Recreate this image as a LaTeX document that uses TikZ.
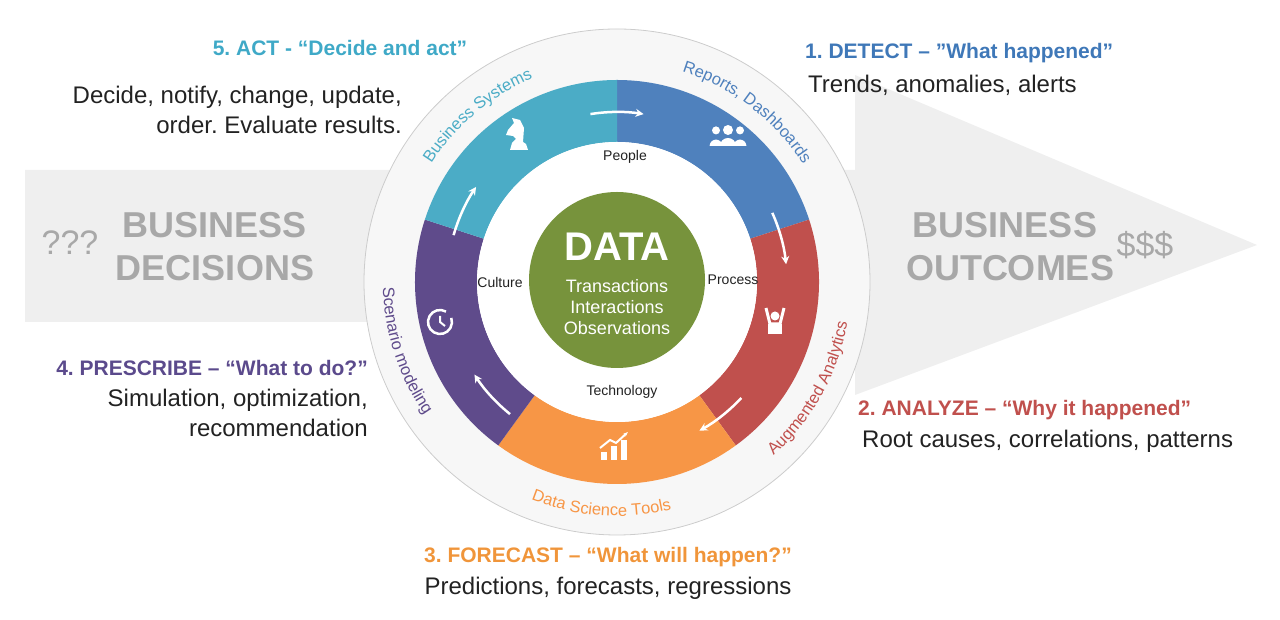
\documentclass[tikz,border=0pt]{standalone}
\usepackage{fontspec}
\setmainfont{Liberation Sans}
\usetikzlibrary{decorations.text,arrows.meta,calc}
\frenchspacing
\definecolor{cblue}{HTML}{4F81BD}
\definecolor{cred}{HTML}{C0504D}
\definecolor{corange}{HTML}{F79646}
\definecolor{cpurple}{HTML}{5F4B8B}
\definecolor{cteal}{HTML}{4BACC6}
\definecolor{cgreen}{HTML}{77933C}
\definecolor{hblue}{HTML}{3F78B8}
\definecolor{hteal}{HTML}{3FA9C7}
\definecolor{horange}{HTML}{F0953A}
\definecolor{hpurple}{HTML}{5B4A8C}
\definecolor{bgray}{HTML}{EFEFEF}
\definecolor{tgray}{HTML}{A8A8A8}
\definecolor{body}{HTML}{222222}
\tikzset{
 head/.style={font=\fontsize{21}{24}\selectfont\bfseries, inner sep=0pt},
 bodytxt/.style={font=\fontsize{24}{27}\selectfont, text=body, inner sep=0pt},
 bigg/.style={font=\fontsize{36}{40}\selectfont\bfseries, text=tgray, inner sep=0pt},
 inlab/.style={font=\fontsize{14}{16}\selectfont, text=body, inner sep=0pt},
 flow/.style={white, line width=2.5pt, -{Stealth[length=8pt,width=8pt]}},
}
\begin{document}
\begin{tikzpicture}[x=1pt,y=1pt]
\useasboundingbox (0,0) rectangle (1280,620);
\coordinate (C) at (617,338);
% big arrow
\fill[bgray] (25,450) -- (855,450) -- (855,545) -- (1257,375) -- (855,225) -- (855,298) -- (25,298) -- cycle;
% outer circle
\fill[white!94!gray, draw=gray!40, line width=0.8pt] (C) circle[radius=253];
% ring segments
\foreach \a/\b/\c in {90/18/cblue, 18/-54/cred, -54/-126/corange, -126/-198/cpurple, 162/90/cteal}{
 \fill[\c] (C) ++(\a:202) arc[start angle=\a, end angle=\b, radius=202] -- ($(C)+(\b:140)$) arc[start angle=\b, end angle=\a, radius=140] -- cycle;
}
\fill[white] (C) circle[radius=140];
\node[circle, fill=cgreen, minimum size=176pt, inner sep=0pt] (core) at (617,340) {};
% flow arrows
\foreach \m in {90,15,-52,-138,155}{
 \draw[flow] (C) ++(\m+9:170) arc[start angle=\m+9, end angle=\m-9, radius=170];
}
% curved labels
\path[decorate, decoration={text along path, text align=center, text={|\fontsize{16.5}{18}\selectfont\color{cteal}|Business Systems}}] (C) ++(160:220) arc[start angle=160, end angle=100, radius=220];
\path[decorate, decoration={text along path, text align=center, text={|\fontsize{16.5}{18}\selectfont\color{cblue}|Reports{,} Dashboards}}] (C) ++(85:220) arc[start angle=85, end angle=20, radius=220];
\path[decorate, decoration={text along path, text align=center, text={|\fontsize{16.5}{18}\selectfont\color{cred}|Augmented Analytics}}] (C) ++(-62:234) arc[start angle=-62, end angle=4, radius=234];
\path[decorate, decoration={text along path, text align=center, text={|\fontsize{16.5}{18}\selectfont\color{corange}|Data Science Tools}}] (C) ++(-122:234) arc[start angle=-122, end angle=-66, radius=234];
\path[decorate, decoration={text along path, text align=center, text={|\fontsize{16.5}{18}\selectfont\color{cpurple}|Scenario modeling}}] (C) ++(170:234) arc[start angle=170, end angle=226, radius=234];
% inner labels
\node[inlab] (people) at (625,463) {People};
\node[inlab] (process) at (733,340) {Process};
\node[inlab] (tech) at (622,228) {Technology};
\node[inlab] (culture) at (500,337) {Culture};
\node[font=\fontsize{40}{44}\selectfont\bfseries, text=white, inner sep=0pt] (data) at (617,373) {DATA};
\node[font=\fontsize{18}{20}\selectfont, text=white, inner sep=0pt, align=center] (dl) at (617,313) {Transactions\\[1pt]Interactions\\[1pt]Observations};
% icons
\fill[white] (510,470) -- (528,470) -- (526,476) -- (523,478) -- (524,492) -- (520,500) -- (512,502) -- (514,497) -- (508,490) -- (506,485) -- (513,484) -- (516,481) -- (512,477) -- cycle;
\foreach \dx/\r in {-12/4,12/4,0/5}{
 \fill[white] (728+\dx,488+\r*0.4) circle[radius=\r];
 \fill[white] (728+\dx-\r*1.6,474) arc[start angle=180,end angle=0,radius=\r*1.6] -- cycle;
}
\fill[white] (775,304) circle[radius=4.5];
\draw[white, line width=3pt] (766,312) -- (770,296) -- (780,296) -- (784,312);
\fill[white] (768,286) rectangle (782,296);
\fill[white] (601,160) rectangle (607,168);
\fill[white] (611,160) rectangle (617,174);
\fill[white] (621,160) rectangle (627,180);
\draw[white, line width=2pt, -{Stealth[length=5pt]}] (600,172) -- (610,180) -- (616,177) -- (628,188);
\draw[white, line width=2.5pt] (440,298) ++(60:12) arc[start angle=60, end angle=380, radius=12];
\draw[white, line width=2pt] (440,304) -- (440,298) -- (445,294);
% headings and texts
\node[head, text=hteal] (h5) at (340,572) {5. ACT - “Decide and act”};
\node[bodytxt, anchor=east] (t5a) at (402,523) {Decide, notify, change, update,};
\node[bodytxt, anchor=east] (t5b) at (402,495) {order. Evaluate results.};
\node[head, text=hblue, anchor=west] (h1) at (805,567) {1. DETECT – ”What happened”};
\node[bodytxt, anchor=west] (t1) at (808,535) {Trends, anomalies, alerts};
\node[head, text=cred, anchor=west] (h2) at (858,210) {2. ANALYZE – “Why it happened”};
\node[bodytxt, anchor=west] (t2) at (862,179) {Root causes, correlations, patterns};
\node[head, text=horange] (h3) at (608,63) {3. FORECAST – “What will happen?”};
\node[bodytxt] (t3) at (608,32) {Predictions, forecasts, regressions};
\node[head, text=hpurple, anchor=east] (h4) at (368,252) {4. PRESCRIBE – “What to do?”};
\node[bodytxt, anchor=east] (t4a) at (368,220) {Simulation, optimization,};
\node[bodytxt, anchor=east] (t4b) at (368,192) {recommendation};
% gray big text
\node[font=\fontsize{34}{38}\selectfont, text=tgray, inner sep=0pt] (q) at (70,377) {???};
\node[bigg] (bd1) at (215,395) {BUSINESS};
\node[bigg] (bd2) at (215,352) {DECISIONS};
\node[bigg] (bo1) at (1005,395) {BUSINESS};
\node[bigg] (bo2) at (1010,352) {OUTCOMES};
\node[font=\fontsize{34}{38}\selectfont, text=tgray, inner sep=0pt] (dol) at (1145,375) {\$\$\$};
\end{tikzpicture}
\end{document}
